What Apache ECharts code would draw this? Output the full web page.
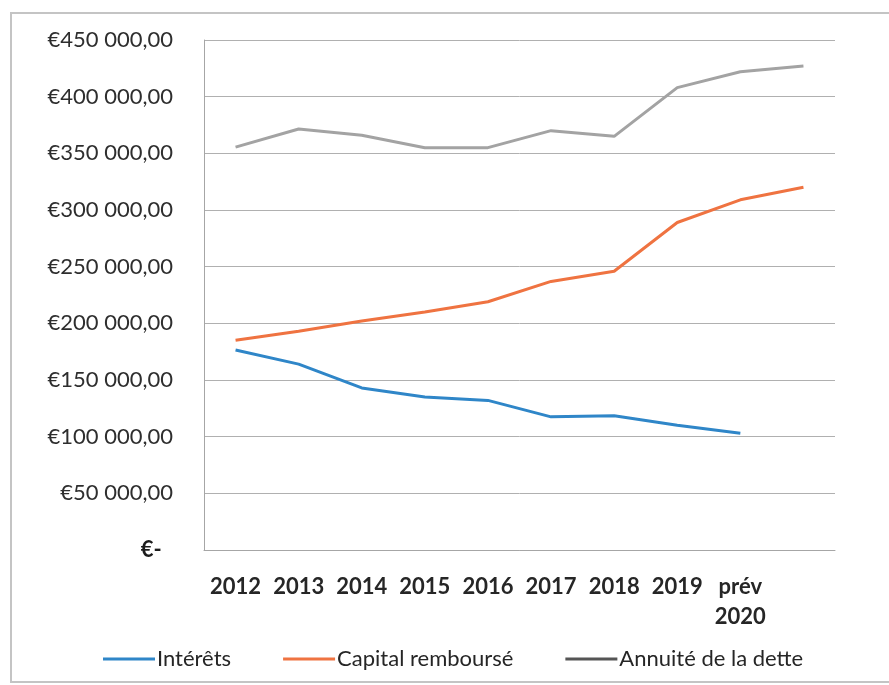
<!DOCTYPE html>
<html>
<head>
<meta charset="utf-8">
<script src="https://cdn.jsdelivr.net/npm/echarts@6/dist/echarts.min.js"></script>
<style>
  html, body { margin: 0; padding: 0; background: #fff; }
  #main { width: 889px; height: 685px; }
</style>
</head>
<body>
<div id="main"></div>
<script>
// categories (the last slot has no label in the original)
var categories = ['2012', '2013', '2014', '2015', '2016', '2017', '2018', '2019', 'prév\n2020', '']
var interets = [176500, 164000, 143000, 135000, 132000, 117500, 118500, 110000, 103000, null]
var capital = [185000, 193000, 202000, 210000, 219000, 237000, 246000, 289000, 309000, 320000]
var annuite = [355500, 371500, 366000, 355000, 355000, 370000, 365000, 408000, 422000, 427000]
var yTicks = [0, 50000, 100000, 150000, 200000, 250000, 300000, 350000, 400000, 450000]

var font = 'Lato'

function euro(v) {
    if (v === 0) return '{z|€-}  '
    var s = String(Math.round(v)).replace(/\B(?=(\d{3})+(?!\d))/g, ' ')
    return '€' + s + ',00'
}

function line(name, data, color) {
    return {
        name: name,
        type: 'line',
        data: data,
        showSymbol: false,
        symbol: 'none',
        lineStyle: { color: color, width: 3 },
        itemStyle: { color: color }
    }
}

var draw = echarts.init(document.getElementById('main'))
draw.setOption({
    backgroundColor: '#fff',
    animation: false,
    graphic: [{
        type: 'rect',
        shape: { x: 11, y: 13, width: 900, height: 669 },
        style: { fill: 'none', stroke: '#c4c4c4', lineWidth: 2 },
        silent: true
    }],
    legend: {
        // the scanned legend shows the annuité swatch much darker than its line
        data: ['Intérêts', 'Capital remboursé', { name: 'Annuité de la dette', itemStyle: { color: '#555555' } }],
        left: 98,
        top: 643,
        icon: 'rect',
        itemWidth: 52,
        itemHeight: 3,
        itemGap: 52,
        textStyle: { fontFamily: font, fontSize: 22, color: '#262626', padding: [0, 0, 0, -3] }
    },
    grid: { left: 204, right: 54, top: 40, bottom: 135, containLabel: false },
    xAxis: {
        type: 'category',
        data: categories,
        boundaryGap: true,
        axisLine: { lineStyle: { color: '#a6a6a6', width: 1 } },
        axisTick: { show: false },
        axisLabel: {
            interval: 0,
            margin: 22,
            fontFamily: font,
            fontSize: 22,
            fontWeight: 'bold',
            color: '#262626',
            lineHeight: 30
        }
    },
    yAxis: {
        type: 'value',
        min: yTicks[0],
        max: yTicks[yTicks.length - 1],
        interval: yTicks[1] - yTicks[0],
        axisLine: { show: true, lineStyle: { color: '#a6a6a6', width: 1 } },
        axisTick: { show: false },
        splitLine: { lineStyle: { color: '#b0b0b0', width: 1 } },
        axisLabel: {
            margin: 31,
            fontFamily: font,
            fontSize: 22,
            color: '#2e2e2e',
            formatter: euro,
            rich: { z: { fontFamily: font, fontSize: 22, fontWeight: 'bold', color: '#1c1c1c' } }
        }
    },
    series: [
        line('Intérêts', interets, '#2f86c8'),
        line('Capital remboursé', capital, '#ef7341'),
        line('Annuité de la dette', annuite, '#a3a3a3')
    ]
})
</script>
</body>
</html>
